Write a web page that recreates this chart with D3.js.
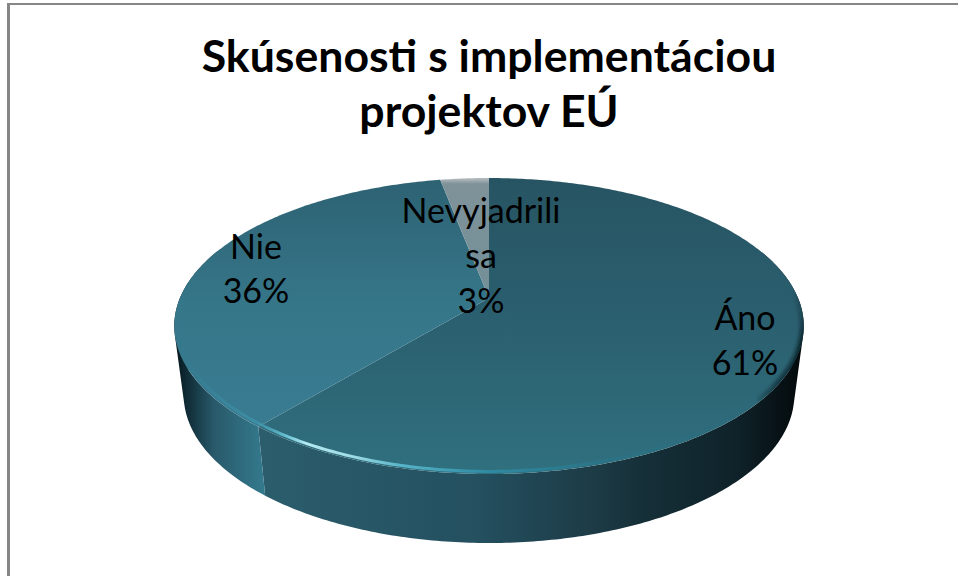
<!DOCTYPE html>
<html><head><meta charset="utf-8">
<script src="https://cdn.jsdelivr.net/npm/d3@7/dist/d3.min.js"></script>
<style>html,body{margin:0;padding:0;background:#fff}svg{display:block}</style>
</head><body><div id="chart"></div>
<script>
const categories = ["Áno", "Nie", "Nevyjadrili sa"];
const percentages = [61, 36, 3];
const labelLines = [["Áno", "61%"], ["Nie", "36%"], ["Nevyjadrili", "sa", "3%"]];
const titleLines = ["Skúsenosti s implementáciou", "projektov EÚ"];

const W = 958, H = 576;
const cx = 489, cyMid = 326, ryTop = 148, persp = 0.19, rxBase = 309;
const depth = 69, lowerScale = 0.97;
const labelPos = [[745, 330], [256, 259], [481, 223]];
const labelStep = [45, 44, 45];

const svg = d3.select("#chart").append("svg").attr("width", W).attr("height", H);
const defs = svg.append("defs");
function grad(id, x1, y1, x2, y2, stops) {
  const g = defs.append("linearGradient").attr("id", id).attr("gradientUnits", "userSpaceOnUse")
    .attr("x1", x1).attr("y1", y1).attr("x2", x2).attr("y2", y2);
  stops.forEach(s => g.append("stop").attr("offset", s[0]).attr("stop-color", s[1]).attr("stop-opacity", s[2] === undefined ? 1 : s[2]));
  return `url(#${id})`;
}
function blur(id, dev) {
  defs.append("filter").attr("id", id).attr("filterUnits", "userSpaceOnUse").attr("x", 0).attr("y", 0).attr("width", W).attr("height", H)
    .append("feGaussianBlur").attr("stdDeviation", dev);
}
blur("soft", 0.7);
blur("softer", 2.2);
const topFills = [
  grad("t0", 0, 179, 0, 474, [[0, "#275462"], [0.5, "#2b6070"], [1, "#30707f"]]),
  grad("t1", 0, 179, 0, 430, [[0, "#2d6273"], [0.5, "#367689"], [1, "#397c92"]]),
  grad("t2", 0, 179, 0, 300, [[0, "#b0b8bb"], [0.04, "#7f9299"], [1, "#728f98"]])
];
const wallFills = [
  grad("w0", 176, 0, 800, 0, [[0, "#2b5d6c"], [0.14, "#2b5d6c"], [0.48, "#245060"], [0.68, "#1c3a44"], [0.75, "#152f38"], [0.9, "#0f2229"], [1, "#040a0c"]]),
  grad("w1", 174, 0, 262, 0, [[0, "#061419"], [0.12, "#0d2731"], [0.45, "#28596a"], [1, "#34788c"]]),
  grad("w2", 174, 0, 262, 0, [[0, "#34788c"], [1, "#34788c"]])
];
const rimStroke = grad("rim", 174, 0, 805, 0, [
  [0, "#2f7a90", 0.1], [0.07, "#3a8ea6", 0.5], [0.13, "#3f9ab2", 0.6], [0.18, "#6cc4d6", 1], [0.21, "#b4eaf2", 1], [0.28, "#a0dce6", 1],
  [0.36, "#58b4c8", 1], [0.5, "#2e8aa2", 1], [0.68, "#2a7488", 0.9], [0.88, "#2b6a7c", 0.4], [0.97, "#2b6a7c", 0]]);
const shadeStroke = grad("shade", 0, 290, 0, 415, [
  [0, "#06141a", 0], [0.4, "#06141a", 0.9], [0.75, "#06141a", 0.7], [1, "#06141a", 0]]);

const pie = d3.pie().sort(null).startAngle(0).endAngle(2 * Math.PI);
const arcs = pie(percentages);

// The disc is seen in perspective: its centre sits above the middle of the ellipse.
function project(theta, r, level) {
  const u = r * Math.sin(theta), v = -r * Math.cos(theta);
  const w = 1 - persp * v;
  return [cx + (level ? lowerScale : 1) * rxBase * u / w,
          cyMid + (level ? depth : 0) + ryTop * (v - persp) / w];
}
const line = d3.line();
const sample = (a, b) => { const n = Math.max(2, Math.ceil((b - a) * 80)); return d3.range(n + 1).map(i => a + (b - a) * i / n); };

// walls
const g = svg.append("g");
arcs.forEach((d, i) => {
  const ts = sample(d.startAngle, d.endAngle).filter(t => -Math.cos(t) > -0.35);
  if (ts.length < 2) return;
  let p = "";
  for (let k = 0; k < ts.length - 1; k++) {
    const quad = [project(ts[k], 1, 0), project(ts[k + 1], 1, 0), project(ts[k + 1], 1, 1), project(ts[k], 1, 1)];
    p += line(d3.polygonArea(quad) < 0 ? quad.reverse() : quad) + "Z";
  }
  g.append("path").attr("d", p).attr("fill", wallFills[i]);
});

// top faces
arcs.forEach((d, i) => {
  const pts = [project(0, 0, 0)].concat(sample(d.startAngle, d.endAngle).map(t => project(t, 1, 0)));
  g.append("path").attr("d", line(pts) + "Z").attr("fill", topFills[i]);
});

// clip for the shading so it stays on the disc
defs.append("clipPath").attr("id", "discClip").append("path")
  .attr("d", line(sample(0, 2 * Math.PI).map(t => project(t, 1, 0))) + "Z");

// rim highlight on the front edge
const rimPts = sample(Math.PI * 0.5, Math.PI * 1.5).map(t => project(t, 0.988, 0));
g.append("g").attr("clip-path", "url(#discClip)").append("path").attr("d", line(rimPts)).attr("fill", "none")
  .attr("stroke", rimStroke).attr("stroke-width", 3).attr("filter", "url(#soft)");

// dark bevel on the right edge
const shadePts = sample(Math.PI * 0.38, Math.PI * 0.72).map(t => project(t, 1, 0));
g.append("g").attr("clip-path", "url(#discClip)").append("path").attr("d", line(shadePts)).attr("fill", "none")
  .attr("stroke", shadeStroke).attr("stroke-width", 6).attr("filter", "url(#softer)");

// frame
svg.append("line").attr("x1", 7).attr("x2", W).attr("y1", 4).attr("y2", 4).attr("stroke", "#868686").attr("stroke-width", 2);
svg.append("line").attr("x1", 8.5).attr("x2", 8.5).attr("y1", 3).attr("y2", H).attr("stroke", "#868686").attr("stroke-width", 3);

// title
const font = "Lato, Carlito, sans-serif";
svg.append("g").selectAll("text").data(titleLines).join("text")
  .attr("x", 489).attr("y", (d, i) => 72 + i * 55).attr("text-anchor", "middle")
  .attr("font-family", font).attr("font-weight", 700).attr("font-size", 44.6).attr("fill", "#000").text(d => d);

// data labels
labelLines.forEach((lines, i) => {
  svg.append("g").selectAll("text").data(lines).join("text")
    .attr("x", labelPos[i][0]).attr("y", (d, k) => labelPos[i][1] + k * labelStep[i]).attr("text-anchor", "middle")
    .attr("font-family", font).attr("font-size", 34).attr("fill", "#000").text(d => d);
});
</script></body></html>
